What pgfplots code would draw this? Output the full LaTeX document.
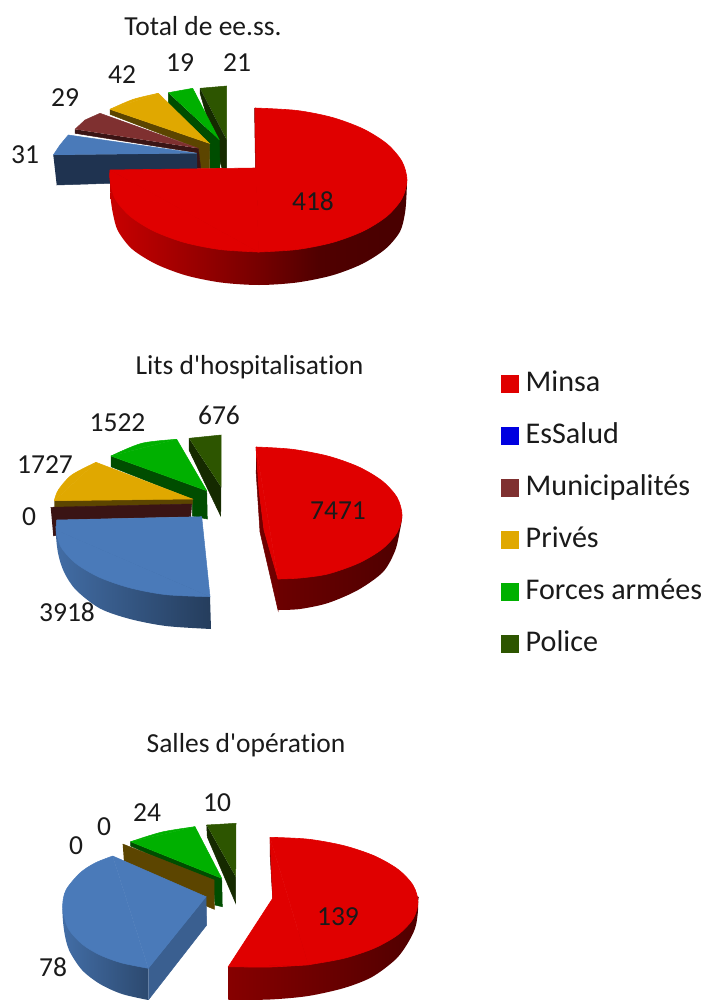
\documentclass[border=0pt]{standalone}
\usepackage{fontspec}
\setmainfont{Carlito}[Ligatures={TeXOff,NoCommon}]
\usepackage{pgfplots}
\pgfplotsset{compat=1.18}
\definecolor{cRed}{HTML}{E00000}
\definecolor{cBlue}{HTML}{0000E0}
\definecolor{cSlice}{HTML}{4A7AB9}
\definecolor{cSliceW}{HTML}{1F3350}
\definecolor{cMuni}{HTML}{7F3030}
\definecolor{cMuniW}{HTML}{3A1414}
\definecolor{cPriv}{HTML}{E0A800}
\definecolor{cPrivW}{HTML}{5C4500}
\definecolor{cForc}{HTML}{00B000}
\definecolor{cForcW}{HTML}{004D00}
\definecolor{cPol}{HTML}{2D5500}
\definecolor{cPolW}{HTML}{152A00}
\definecolor{cTxt}{HTML}{1A1A1A}
\pgfdeclarehorizontalshading{wallA}{100bp}{rgb(0bp)=(.784,0,0); rgb(25bp)=(.784,0,0); rgb(50bp)=(.463,0,0); rgb(60bp)=(.314,0,0); rgb(75bp)=(.282,0,0); rgb(100bp)=(.282,0,0)}
\newcommand{\lab}[3]{\node[text=cTxt,font=\fontsize{27.5bp}{32bp}\selectfont,inner sep=0pt] at (axis cs:#1,#2) {#3};}
\begin{document}
\begin{tikzpicture}
\begin{axis}[
  scale only axis, width=704bp, height=1000bp,
  xmin=0, xmax=704, ymin=0, ymax=1000, y dir=reverse,
  hide axis,
  poly/.style={draw=#1, line width=0.5bp, fill=#1, forget plot},
  top/.style={draw=cRed, line width=0.6bp, fill=cRed, forget plot},
  legend image code/.code={\fill[#1] (0bp,-8.5bp) rectangle (16.5bp,8.5bp); \path[draw=none,fill=none] (0bp,0bp) -- (24.5bp,0bp);},
  legend cell align=left,
  legend style={draw=none, fill=none, at={(axis cs:501,369.5)}, anchor=north west,
    inner sep=0pt, outer sep=0pt, row sep=23bp,
    nodes={inner sep=0pt, text=cTxt, font=\fontsize{30.1bp}{36bp}\selectfont, text height=22bp, text depth=7bp}},
]
\path (rel axis cs:0,0) rectangle (rel axis cs:1,1);
% ---------- Total de ee.ss. ----------
\addplot[poly=cPol] coordinates {(200,88.3)(226.7,86)(226.7,140)};
\addplot[poly=cPolW] coordinates {(200,88.3)(200,93)(222,168.3)(226.7,168.3)(226.7,140)};
\addplot[poly=cForcW] coordinates {(168.3,92.7)(168.3,103.3)(209.3,143.3)(210,168.3)(220,168.3)(219.3,140)};
\addplot[poly=cForc] coordinates {(168.3,92.7)(192.7,88.3)(219.3,140)};
\addplot[poly=cPrivW] coordinates {(110,109.3)(110,114.3)(198.3,148.3)(200.7,168.3)(209.3,168.3)(209.3,143.3)};
\addplot[poly=cPriv,smooth] coordinates {(110,109.3)(133.3,99.3)(158.3,93.3)};
\addplot[poly=cPriv] coordinates {(110,109.3)(158.3,93.3)(209.3,143.3)(110,109.3)};
\addplot[poly=cMuniW] coordinates {(75,129.3)(75,133.3)(196.7,152.7)(196.7,168.3)(200.7,168.3)(198.3,148.3)};
\addplot[poly=cMuni] coordinates {(75,129.3)(85,120)(100,113.3)(198.3,148.3)};
\addplot[poly=cSliceW] coordinates {(53.3,155)(196.7,153.3)(197,184)(110,183.3)(56.7,185)};
\addplot[poly=cSlice] coordinates {(53.3,155)(60,145)(68.3,135)(196.7,153.3)};
\addplot[draw=none, forget plot, smooth, shade, shading=wallA] coordinates {
 (407,180)(406.5,195)(405,213)(400,231.6)(385.4,249)(362,264)(332,275.4)(296.8,282.5)(259,285)(221,282.5)(186,275.4)(155.8,264)(132,249)(118,231)(113,214)(110.5,197)(110,180)};
\addplot[poly=cRed!60!black] coordinates {(254.5,108)(255.5,168.5)(257,168.5)(255.5,108)};
\addplot[top,smooth] coordinates {(255,108)(297,110.5)(332.75,117.6)(363.5,129.1)(387.1,144)(401.9,161.4)(407,180)(401.9,198.6)(387.1,216)(363.5,230.9)(332.75,242.4)(297,249.5)(258.5,252)};
\addplot[top,smooth] coordinates {(258.5,252)(220,249.5)(184.25,242.4)(153.5,230.9)(129.9,216)(115.1,198.6)(110,180)(110,170)};
\addplot[top] coordinates {(110,170)(256,168)(258.5,252)(110,170)};
\addplot[top] coordinates {(255.2,108)(256,168)(258.5,252)(255.2,108)};
\lab{203}{26}{Total de ee.ss.}
\lab{25}{155}{31}
\lab{65}{98}{29}
\lab{122}{75}{42}
\lab{180}{63}{19}
\lab{237}{63}{21}
\lab{313}{201}{418}
% ---------- Lits d'hospitalisation ----------
\addplot[poly=cPolW] coordinates {(189,438.3)(189,450)(220.7,516)(221,486.7)};
\addplot[poly=cPol] coordinates {(189,438.3)(221,435)(221,486.7)};
\addplot[poly=cForcW] coordinates {(111,456)(111,466.7)(192.3,499)(192.3,516)(207.3,519)(206.7,490.7)};
\addplot[poly=cForc,smooth] coordinates {(111,456)(141.7,443.3)(176.7,439.3)};
\addplot[poly=cForc] coordinates {(111,456)(176.7,439.3)(206.7,490.7)(111,456)};
\addplot[poly=cPrivW] coordinates {(54.3,500.7)(192.3,498.5)(192.3,504)(54.3,507.3)};
\addplot[poly=cPriv,smooth] coordinates {(54.3,500.7)(58.3,490)(71.7,475)(96,462.3)};
\addplot[poly=cPriv] coordinates {(54.3,500.7)(96,462.3)(192.3,499)(54.3,500.7)};
\addplot[poly=cMuniW] coordinates {(50.7,507.3)(191.7,504)(190.7,516.7)(56.7,520)(56.7,535)(53.3,536)};
\addplot[draw=none, forget plot, smooth, left color=cSlice!90!black, right color=cSlice!50!black] coordinates {
 (210,596.7)(130,530)(62,526)(56,530)(58,553)(64,572)(76,590)(100,608.5)(130,619)(166,626)(211,629)};
\addplot[poly=cSlice,smooth] coordinates {(56,530)(61,547)(76,563.5)(99.6,577.4)(130.5,588)(166.4,594.7)(210,596.7)};
\addplot[poly=cSlice] coordinates {(56.7,520)(201.7,516.7)(210,596.7)(56,530)(56.7,520)};
\addplot[poly=cRed!50!black] coordinates {(256,447)(259,490)(264,530)(278,579)(278,610)(260,532)(256,470)};
\addplot[draw=none, forget plot, smooth, left color=cRed!48!black, right color=cRed!35!black] coordinates {
 (278,579)(340,520)(395,512)(402,515)(400,530)(395,551)(383,572)(358,590)(328,603)(300,609)(278,610)};
\addplot[top,smooth] coordinates {(256,447)(292.3,449.3)(328,456.1)(358.6,466.9)(382.2,481)(397,497.4)(402,515)(397,532.6)(382.2,549)(358.6,563.1)(328,573.9)(300,578)(278,579)};
\addplot[top] coordinates {(256,447)(278,579)(264,530)(259,490)(256,447)};
\lab{249.5}{367}{Lits d'hospitalisation}
\lab{219}{415}{676}
\lab{117.5}{423}{1522}
\lab{45}{465}{1727}
\lab{29}{516.5}{0}
\lab{67}{612}{3918}
\lab{338}{511}{7471}
% ---------- Salles d'opération ----------
\addplot[poly=cPolW] coordinates {(206.7,825)(207.3,837)(235.7,903.3)(235.7,876.7)};
\addplot[poly=cPol] coordinates {(206.7,825)(236,823.3)(235.7,876.7)};
\addplot[poly=cForcW] coordinates {(130.7,841.7)(130.7,846)(213.3,883)(215,905)(222.3,906.7)(221.7,878.3)};
\addplot[poly=cForc,smooth] coordinates {(130.7,841.7)(162,832)(195,826.7)};
\addplot[poly=cForc] coordinates {(130.7,841.7)(195,826.7)(221.7,878.3)(130.7,841.7)};
\addplot[poly=cPrivW] coordinates {(122.7,844)(214,880)(214.3,909.3)(204,905)(124,862)};
\addplot[draw=none, forget plot, smooth, left color=cSlice!90!black, right color=cSlice!60!black] coordinates {
 (148.3,968.3)(100,900)(70,902)(62.7,907)(64,930)(69,950)(82,970)(100,984)(122,994)(148.3,1000)};
\addplot[poly=cSlice!78!black] coordinates {(148.3,968.3)(206,896.7)(206.7,925)(148.3,1000)};
\addplot[poly=cSlice,smooth] coordinates {(112.7,856)(95,863)(80,873)(66,890)(62.7,907)(68,928)(82,944)(100,955)(122,963)(148.3,968.3)};
\addplot[poly=cSlice] coordinates {(112.7,856)(206,896.7)(148.3,968.3)(112.7,856)};
\addplot[poly=cRed!50!black] coordinates {(270,837.3)(270,853)(272.7,898.3)(272.7,880)};
\addplot[draw=none, forget plot, smooth, left color=cRed!60!black, right color=cRed!35!black] coordinates {
 (228.3,966.7)(320,920)(410,897)(418,902)(416,925)(409,941)(396,959)(372,977)(344,988)(308,996)(270,999.5)(228.3,1000)};
\addplot[top,smooth] coordinates {(270,837.3)(308.3,839.2)(344,845.7)(374.6,856)(398.2,869.5)(413,885.2)(418,902)(413,918.8)(398.2,934.5)(374.6,948)(344,958.3)(308.3,964.8)};
\addplot[top,smooth] coordinates {(308.3,964.8)(270,967)(228.3,966.7)};
\addplot[top] coordinates {(270,837.3)(272.7,898.3)(228.3,966.7)(308.3,964.8)(270,837.3)};
\lab{246}{745}{Salles d'opération}
\lab{217}{803}{10}
\lab{147}{813}{24}
\lab{104}{827}{0}
\lab{76}{846}{0}
\lab{53}{967}{78}
\lab{338}{917}{139}
% ---------- legend ----------
\addlegendimage{cRed}\addlegendentry{Minsa}
\addlegendimage{cBlue}\addlegendentry{EsSalud}
\addlegendimage{cMuni}\addlegendentry{Municipalités}
\addlegendimage{cPriv}\addlegendentry{Privés}
\addlegendimage{cForc}\addlegendentry{Forces armées}
\addlegendimage{cPol}\addlegendentry{Police}
\end{axis}
\end{tikzpicture}
\end{document}
